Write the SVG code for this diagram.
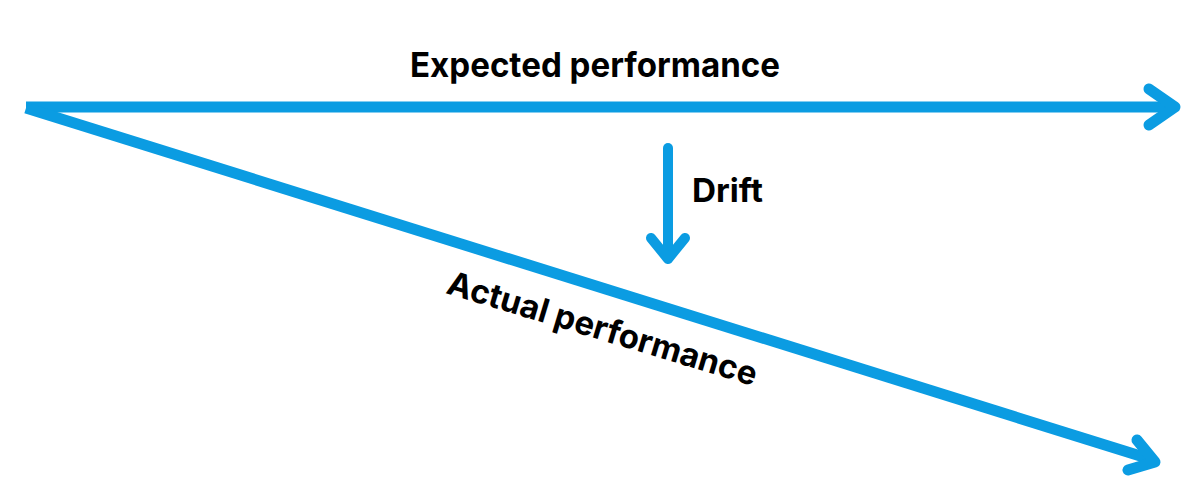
<svg xmlns="http://www.w3.org/2000/svg" width="1200" height="500" viewBox="0 0 1200 500">
<style>
.ln{fill:none;stroke:#0b9ce2;stroke-width:11;stroke-linecap:round;stroke-linejoin:round}
.lbl{font-family:Inter,"Liberation Sans",sans-serif;font-weight:700;fill:#000}
</style>
<rect width="1200" height="500" fill="#fff"/>
<g id="connectors">
<g id="expected-arrow">
<line class="ln" x1="26" y1="107" x2="1172" y2="107" style="stroke-linecap:butt"/>
<polyline class="ln" points="1149,89 1175,107 1149,125"/>
</g>
<g id="actual-arrow">
<line class="ln" x1="26" y1="108" x2="1150" y2="459" style="stroke-linecap:butt"/>
<polyline class="ln" points="1137,440 1155,462 1128,470"/>
</g>
<g id="drift-arrow">
<line class="ln" x1="668" y1="148" x2="668" y2="258" style="stroke-width:10"/>
<polyline class="ln" points="651,238 668,259 685,238" style="stroke-width:10"/>
</g>
</g>
<g id="expected-label"><text class="lbl" x="410" y="77" font-size="34" textLength="370" lengthAdjust="spacingAndGlyphs">Expected performance</text></g>
<g id="drift-label"><text class="lbl" x="692" y="202" font-size="33" textLength="71" lengthAdjust="spacingAndGlyphs">Drift</text></g>
<g id="actual-label"><text class="lbl" font-size="33" transform="translate(445,293) rotate(16.8)" textLength="322" lengthAdjust="spacingAndGlyphs">Actual performance</text></g>
</svg>
